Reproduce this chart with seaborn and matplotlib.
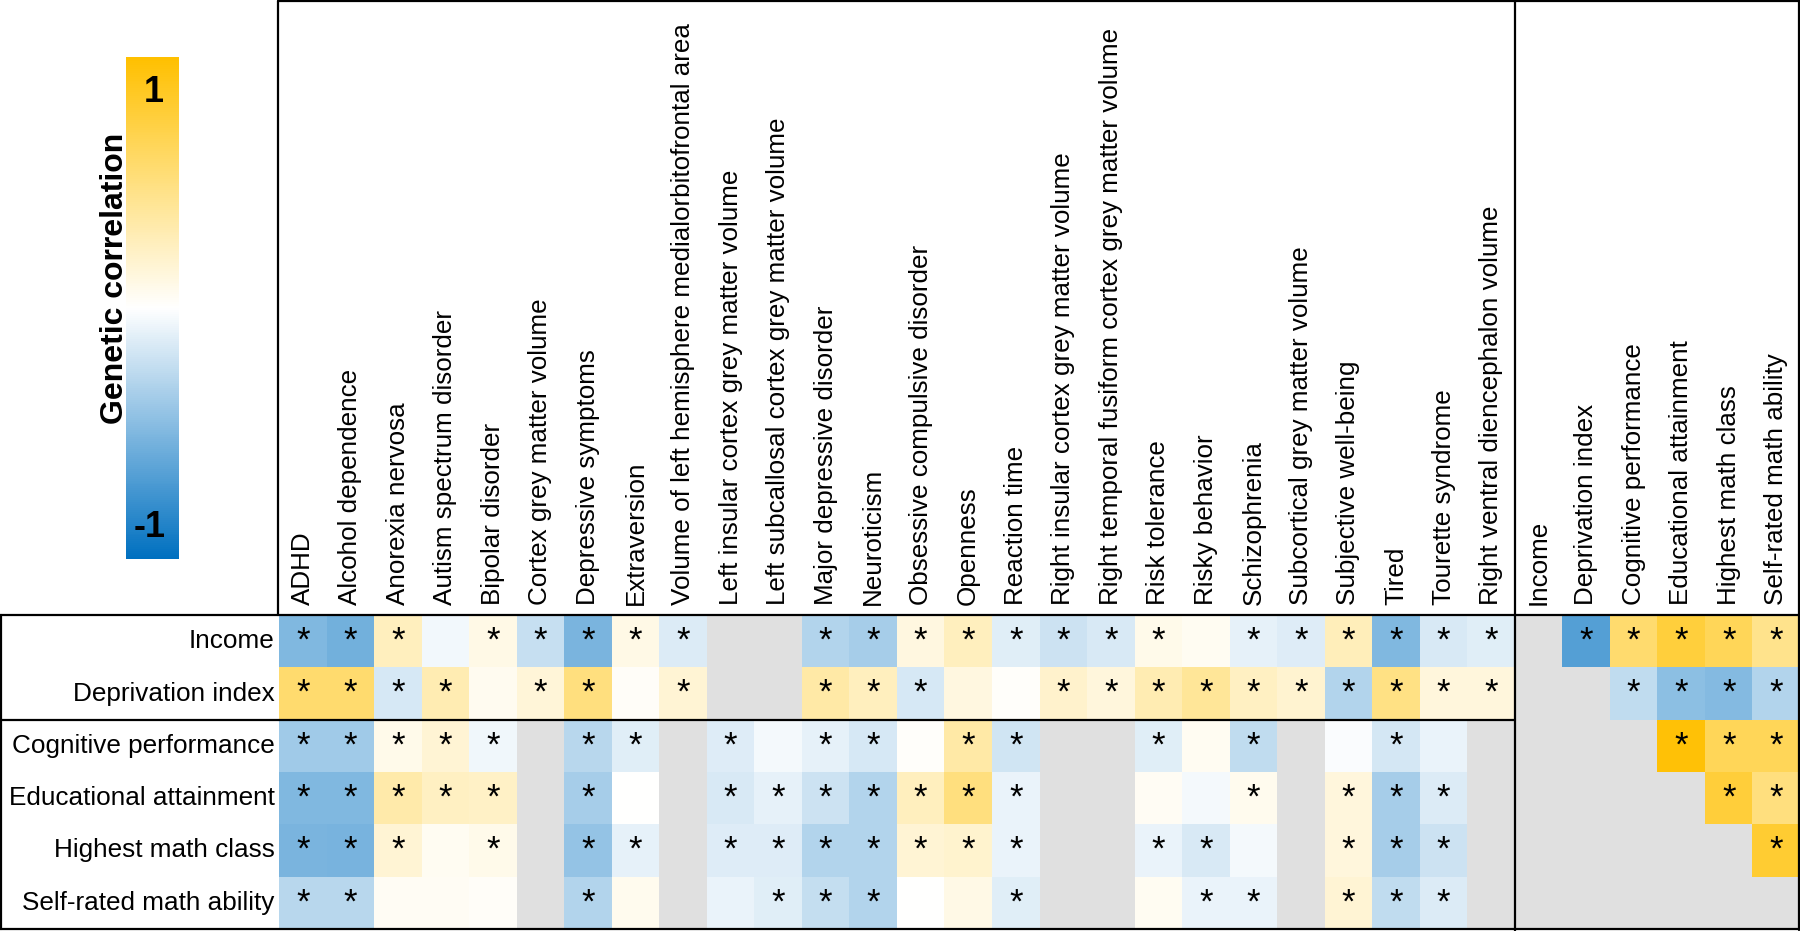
import numpy as np
import matplotlib.pyplot as plt
import seaborn as sns
from matplotlib.colors import LinearSegmentedColormap
from matplotlib.lines import Line2D
from matplotlib.transforms import blended_transform_factory

nan = np.nan

# row traits
row_labels = ['Income', 'Deprivation index', 'Cognitive performance',
              'Educational attainment', 'Highest math class', 'Self-rated math ability']

# column traits (left block = other traits, right block = same traits as rows)
left_traits = ['ADHD', 'Alcohol dependence', 'Anorexia nervosa', 'Autism spectrum disorder',
               'Bipolar disorder', 'Cortex grey matter volume', 'Depressive symptoms',
               'Extraversion', 'Volume of left hemisphere medialorbitofrontal area',
               'Left insular cortex grey matter volume', 'Left subcallosal cortex grey matter volume',
               'Major depressive disorder', 'Neuroticism', 'Obsessive compulsive disorder',
               'Openness', 'Reaction time', 'Right insular cortex grey matter volume',
               'Right temporal fusiform cortex grey matter volume', 'Risk tolerance',
               'Risky behavior', 'Schizophrenia', 'Subcortical grey matter volume',
               'Subjective well-being', 'Tired', 'Tourette syndrome',
               'Right ventral diencephalon volume']
right_traits = ['Income', 'Deprivation index', 'Cognitive performance',
                'Educational attainment', 'Highest math class', 'Self-rated math ability']

# genetic correlations, nan = not estimated
income_rg = [-0.50, -0.55, 0.25, -0.05, 0.10, -0.22, -0.52, 0.10, -0.14, nan, nan, -0.30, -0.35,
             0.12, 0.25, -0.12, -0.20, -0.15, 0.08, 0.05, -0.10, -0.13, 0.27, -0.50, -0.15, -0.12,
             nan, -0.67, 0.57, 0.76, 0.65, 0.45]
deprivation_rg = [0.57, 0.57, -0.16, 0.30, 0.06, 0.15, 0.50, 0.03, 0.17, nan, nan, 0.35, 0.25,
                  -0.16, 0.12, 0.02, 0.20, 0.14, 0.30, 0.40, 0.24, 0.18, -0.30, 0.48, 0.14, 0.14,
                  nan, nan, -0.25, -0.45, -0.48, -0.30]
cognitive_rg = [-0.37, -0.37, 0.08, 0.17, -0.06, nan, -0.28, -0.12, nan, -0.13, -0.04, -0.10, -0.16,
                0.02, 0.35, -0.18, nan, nan, -0.12, 0.05, -0.25, nan, -0.02, -0.17, -0.08, nan,
                nan, nan, nan, 0.97, 0.65, 0.65]
education_rg = [-0.50, -0.50, 0.33, 0.24, 0.22, nan, -0.35, 0.00, nan, -0.15, -0.10, -0.20, -0.30,
                0.25, 0.50, -0.08, nan, nan, 0.04, -0.04, 0.07, nan, 0.14, -0.35, -0.14, nan,
                nan, nan, nan, nan, 0.77, 0.50]
math_class_rg = [-0.52, -0.53, 0.17, 0.05, 0.08, nan, -0.42, -0.10, nan, -0.13, -0.13, -0.30, -0.30,
                 0.17, 0.19, -0.08, nan, nan, -0.08, -0.15, -0.04, nan, 0.14, -0.35, -0.20, nan,
                 nan, nan, nan, nan, nan, 0.80]
math_ability_rg = [-0.28, -0.28, 0.04, 0.04, 0.03, nan, -0.30, 0.07, nan, -0.08, -0.12, -0.23, -0.30,
                   0.00, 0.10, -0.12, nan, nan, 0.05, -0.08, -0.08, nan, 0.17, -0.25, -0.14, nan,
                   nan, nan, nan, nan, nan, nan]

# significance flags (1 = asterisk)
income_sig = [1, 1, 1, 0, 1, 1, 1, 1, 1, 0, 0, 1, 1, 1, 1, 1, 1, 1, 1, 0, 1, 1, 1, 1, 1, 1,
              0, 1, 1, 1, 1, 1]
deprivation_sig = [1, 1, 1, 1, 0, 1, 1, 0, 1, 0, 0, 1, 1, 1, 0, 0, 1, 1, 1, 1, 1, 1, 1, 1, 1, 1,
                   0, 0, 1, 1, 1, 1]
cognitive_sig = [1, 1, 1, 1, 1, 0, 1, 1, 0, 1, 0, 1, 1, 0, 1, 1, 0, 0, 1, 0, 1, 0, 0, 1, 0, 0,
                 0, 0, 0, 1, 1, 1]
education_sig = [1, 1, 1, 1, 1, 0, 1, 0, 0, 1, 1, 1, 1, 1, 1, 1, 0, 0, 0, 0, 1, 0, 1, 1, 1, 0,
                 0, 0, 0, 0, 1, 1]
math_class_sig = [1, 1, 1, 0, 1, 0, 1, 1, 0, 1, 1, 1, 1, 1, 1, 1, 0, 0, 1, 1, 0, 0, 1, 1, 1, 0,
                  0, 0, 0, 0, 0, 1]
math_ability_sig = [1, 1, 0, 0, 0, 0, 1, 0, 0, 0, 1, 1, 1, 0, 0, 1, 0, 0, 0, 1, 1, 0, 1, 1, 1, 0,
                    0, 0, 0, 0, 0, 0]

rg = np.array([income_rg, deprivation_rg, cognitive_rg, education_rg, math_class_rg, math_ability_rg])
sig = np.array([income_sig, deprivation_sig, cognitive_sig, education_sig, math_class_sig, math_ability_sig])
stars = np.where(sig == 1, '*', '')

sns.set_style('white')
plt.rcParams['font.family'] = ['Liberation Sans', 'DejaVu Sans']
plt.rcParams['text.color'] = 'black'
plt.rcParams['xtick.color'] = 'black'
plt.rcParams['ytick.color'] = 'black'

W, H = 1800, 931
fig = plt.figure(figsize=(W / 100, H / 100), dpi=100)


def fx(px):
    return px / W


def fy(py):
    return 1 - py / H


ax = fig.add_axes([fx(279), fy(929), fx(1800) - fx(279), fy(615) - fy(929)])
cax = fig.add_axes([fx(126), fy(559), fx(179) - fx(126), fy(57) - fy(559)])

cmap = LinearSegmentedColormap.from_list('rg', ['#0070C0', '#FFFFFF', '#FFC000'])
sns.heatmap(rg, ax=ax, cmap=cmap, vmin=-1, vmax=1,
            annot=stars, fmt='', annot_kws={'size': 25, 'color': 'black'},
            xticklabels=left_traits + right_traits, yticklabels=row_labels,
            cbar_ax=cax)
ax.set_facecolor('#E0E0E0')
ax.xaxis.tick_top()
ax.tick_params(axis='x', rotation=90, length=0, pad=7, labelsize=18.7, labelcolor='black')
ax.tick_params(axis='y', rotation=0, length=0, pad=3, labelsize=18.8, labelcolor='black')

# colorbar
cbar = ax.collections[0].colorbar
cbar.outline.set_visible(False)
cax.set_yticks([])
cax.text(0.52, 0.93, '1', transform=cax.transAxes, ha='center', va='center',
         fontsize=26, fontweight='bold', color='black')
cax.text(0.44, 0.062, '-1', transform=cax.transAxes, ha='center', va='center',
         fontsize=26, fontweight='bold', color='black')
fig.text(fx(115), fy(278), 'Genetic correlation', rotation=90, ha='center', va='center',
         fontsize=23, fontweight='bold', color='black')

# separators inside the heatmap
n_left = len(left_traits)
tr_x = blended_transform_factory(ax.transData, fig.transFigure)
lw = 1.6
fig.add_artist(Line2D([n_left, n_left], [0, 1], transform=tr_x, color='black', lw=lw))
tr_y = blended_transform_factory(fig.transFigure, ax.transData)
fig.add_artist(Line2D([0, fx(279)], [2, 2], transform=tr_y, color='black', lw=lw))
ax.plot([0, n_left], [2, 2], color='black', lw=lw, clip_on=False)

# frames round the labels
frame = [((278, 1), (278, 615)), ((278, 1), (1800, 1)), ((1799, 1), (1799, 930)),
         ((0, 615), (1800, 615)), ((0, 929), (1800, 929)), ((1, 615), (1, 929))]
for (x0, y0), (x1, y1) in frame:
    fig.add_artist(Line2D([fx(x0), fx(x1)], [fy(y0), fy(y1)], transform=fig.transFigure,
                          color='black', lw=lw))

fig.savefig('out.png', dpi=100)
